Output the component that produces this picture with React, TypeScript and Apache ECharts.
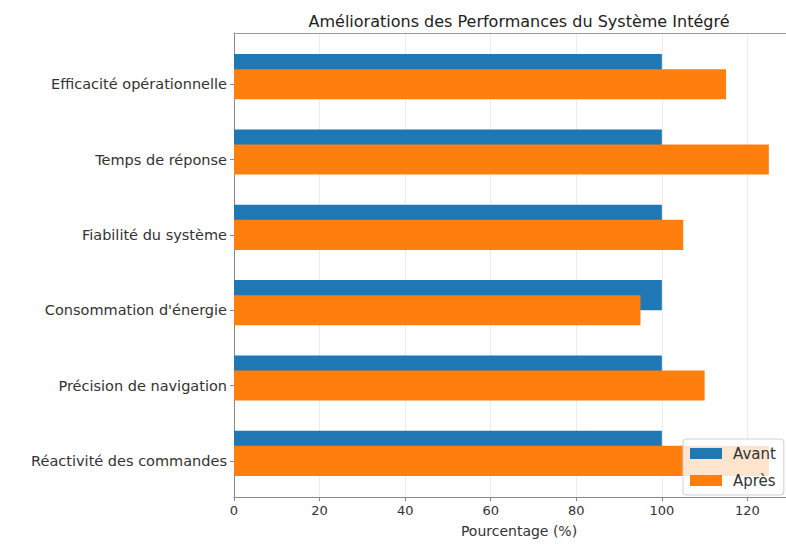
import React, { useEffect, useRef } from "react";
import * as echarts from "echarts";

const categories = [
  "Efficacité opérationnelle",
  "Temps de réponse",
  "Fiabilité du système",
  "Consommation d'énergie",
  "Précision de navigation",
  "Réactivité des commandes",
];
const avant = [100, 100, 100, 100, 100, 100];
const apres = [115, 125, 105, 95, 110, 125];
const xTicks = [0, 20, 40, 60, 80, 100, 120];
const seriesNames = ["Avant", "Après"];

const FONT = "'DejaVu Sans', 'Noto Sans', sans-serif";
// The plot continues past the right edge of the 786px picture (as in the reference),
// so the chart canvas is wider than the window and the overflow is hidden.
const X_MAX = 140;
const CHART_W = 833;
const CHART_H = 544;
const GRID_LEFT = 234;

export default function App() {
  const ref = useRef<HTMLDivElement>(null);
  useEffect(() => {
    document.body.style.margin = "0";
    document.body.style.overflow = "hidden";
    document.documentElement.style.overflow = "hidden";
    const chart = echarts.init(ref.current!, null, { renderer: "svg" });
    const renderBar = (params: any, api: any) => {
      const v = api.value(0);
      const y = api.value(1);
      const p0 = api.coord([0, y - 0.2]);
      const p1 = api.coord([v, y + 0.2]);
      return {
        type: "rect",
        shape: {
          x: p0[0],
          y: Math.min(p0[1], p1[1]),
          width: p1[0] - p0[0],
          height: Math.abs(p1[1] - p0[1]),
        },
        style: api.style(),
      };
    };
    chart.setOption({
      animation: false,
      textStyle: { fontFamily: FONT },
      title: [
        {
          text: "Améliorations des Performances du Système Intégré",
          left: 514,
          textAlign: "center",
          top: 8,
          textStyle: { fontSize: 16, fontWeight: "normal", color: "#222", fontFamily: FONT },
        },
        {
          text: "Pourcentage (%)",
          left: 514,
          textAlign: "center",
          top: 519,
          textStyle: { fontSize: 14, fontWeight: "normal", color: "#333", fontFamily: FONT },
        },
      ],
      legend: {
        orient: "vertical",
        left: 683,
        top: 439,
        z: 10,
        data: seriesNames.map((n) => ({ name: n, icon: "rect" })),
        itemWidth: 32,
        itemHeight: 11,
        itemGap: 12,
        padding: [7, 8, 7, 7],
        backgroundColor: "rgba(255,255,255,0.8)",
        borderColor: "#d0d0d0",
        borderWidth: 1,
        borderRadius: 3,
        textStyle: { fontSize: 15, color: "#333", fontFamily: FONT, padding: [0, 0, 0, 6] },
      },
      graphic: [
        {
          type: "rect",
          left: 783,
          top: 35,
          z: 5,
          silent: true,
          shape: { width: 50, height: 460 },
          style: { fill: "#ffffff" },
        },
      ],
      grid: {
        left: GRID_LEFT,
        right: 0,
        top: 33,
        bottom: 47,
        outerBoundsMode: "none",
        containLabel: false,
        show: false,
      },
      xAxis: [
        {
          type: "value",
          min: 0,
          max: X_MAX,
          interval: 20,
          axisLine: { show: true, onZero: false, lineStyle: { color: "#888" } },
          axisTick: { show: true, length: 4, lineStyle: { color: "#888" }, customValues: xTicks },
          axisLabel: {
            fontSize: 13,
            color: "#333",
            margin: 7,
            customValues: xTicks,
            formatter: (v: number) => String(v),
          },
          splitLine: { show: true, lineStyle: { color: "#ececec" } },
        },
        {
          type: "value",
          position: "top",
          min: 0,
          max: X_MAX,
          interval: 20,
          axisLine: { show: true, onZero: false, lineStyle: { color: "#999" } },
          axisTick: { show: false },
          axisLabel: { show: false },
          splitLine: { show: false },
        },
      ],
      yAxis: {
        type: "value",
        inverse: true,
        min: -0.68,
        max: 5.48,
        axisLine: { show: true, onZero: false, lineStyle: { color: "#888" } },
        axisTick: { show: true, length: 4, lineStyle: { color: "#888" }, customValues: categories.map((_, i) => i) },
        axisLabel: {
          fontSize: 14.5,
          color: "#333",
          margin: 7,
          customValues: categories.map((_, i) => i),
          formatter: (v: number) => categories[Math.round(v)] ?? "",
        },
        splitLine: { show: false },
      },
      series: [
        {
          name: seriesNames[0],
          type: "custom",
          renderItem: renderBar,
          encode: { x: 0, y: 1 },
          itemStyle: { color: "#1f77b4" },
          data: avant.map((v, i) => [v, i - 0.2]),
        },
        {
          name: seriesNames[1],
          type: "custom",
          renderItem: renderBar,
          encode: { x: 0, y: 1 },
          itemStyle: { color: "#ff7f0e" },
          data: apres.map((v, i) => [v, i]),
        },
      ],
    });
    return () => chart.dispose();
  }, []);
  return <div ref={ref} style={{ width: CHART_W, height: CHART_H }} />;
}
